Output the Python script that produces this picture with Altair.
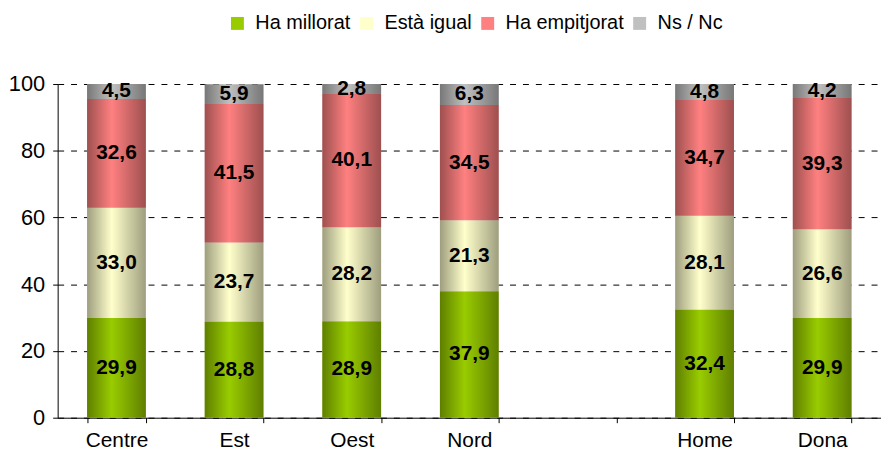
import altair as alt
import pandas as pd

categories = ["Centre", "Est", "Oest", "Nord", "Home", "Dona"]
axis_domain = ["Centre", "Est", "Oest", "Nord", " ", "Home", "Dona"]
series = ["Ha millorat", "Està igual", "Ha empitjorat", "Ns / Nc"]
millorat = [29.9, 28.8, 28.9, 37.9, 32.4, 29.9]
igual = [33.0, 23.7, 28.2, 21.3, 28.1, 26.6]
empitjorat = [32.6, 41.5, 40.1, 34.5, 34.7, 39.3]
nsnc = [4.5, 5.9, 2.8, 6.3, 4.8, 4.2]
colors = ["#99CC00", "#FFFFCC", "#FF8080", "#C0C0C0"]
y_ticks = [0, 20, 40, 60, 80, 100]

rows = []
for s_i, (s, vals) in enumerate(zip(series, [millorat, igual, empitjorat, nsnc])):
    for c, v in zip(categories, vals):
        rows.append({"cat": c, "series": s, "ord": s_i, "v": v})
df = pd.DataFrame(rows)

FONT = "Liberation Sans"

base = (
    alt.Chart(df)
    .transform_stack(
        stack="v", groupby=["cat"], as_=["v0", "v1"],
        sort=[alt.SortField("ord", order="ascending")],
    )
    .transform_calculate(
        mid="(datum.v0 + datum.v1) / 2",
        lbl="replace(format(datum.v, '.1f'), '.', ',')",
    )
)

x_scale = alt.Scale(domain=axis_domain, paddingInner=0.5, paddingOuter=0.25)
x_enc = alt.X(
    "cat:N",
    scale=x_scale,
    axis=alt.Axis(
        title=None, labelAngle=0, labelFontSize=21, labelFont=FONT, labelColor="black",
        tickBand="extent", tickSize=5, tickColor="black", labelPadding=7,
        domainColor="black", grid=False,
    ),
)
y_scale = alt.Scale(domain=[0, 100])
y_axis = alt.Axis(
    title=None, values=y_ticks, labelFontSize=22, labelFont=FONT, labelColor="black",
    tickSize=5, tickColor="black", labelPadding=8, domainColor="black",
    grid=True, gridColor="black", gridDash=[6, 7], gridWidth=1,
)

bars = base.mark_bar().encode(
    x=x_enc,
    y=alt.Y("v0:Q", scale=y_scale, axis=y_axis),
    y2="v1:Q",
    color=alt.Color(
        "series:N",
        scale=alt.Scale(domain=series, range=colors),
        legend=alt.Legend(
            title=None, orient="none", legendX=171, legendY=-71, direction="horizontal",
            symbolType="square", symbolSize=169, symbolStrokeWidth=0,
            labelFontSize=20, labelFont=FONT, labelColor="black",
            columnPadding=6, labelOffset=8,
        ),
    ),
)

shade = base.mark_bar(
    color=alt.Gradient(
        gradient="linear",
        stops=[
            alt.GradientStop(color="rgba(0,0,0,0.38)", offset=0),
            alt.GradientStop(color="rgba(0,0,0,0)", offset=0.42),
            alt.GradientStop(color="rgba(0,0,0,0.38)", offset=1),
        ],
        x1=0, x2=1, y1=0, y2=0,
    )
).encode(
    x=alt.X("cat:N", scale=x_scale),
    y=alt.Y("v0:Q", scale=y_scale),
    y2="v1:Q",
    detail="series:N",
)

labels = base.mark_text(
    fontWeight="bold", fontSize=21, font=FONT, color="black", baseline="middle"
).encode(
    x=alt.X("cat:N", scale=x_scale),
    y=alt.Y("mid:Q", scale=y_scale),
    text="lbl:N",
)

chart = (
    alt.layer(bars, shade, labels)
    .properties(width=829, height=336, padding={"left": 0, "top": 4, "right": 0, "bottom": 0})
    .configure_view(stroke=None)
)

chart.save("out.html", embed_options={"renderer": "svg", "actions": False})
